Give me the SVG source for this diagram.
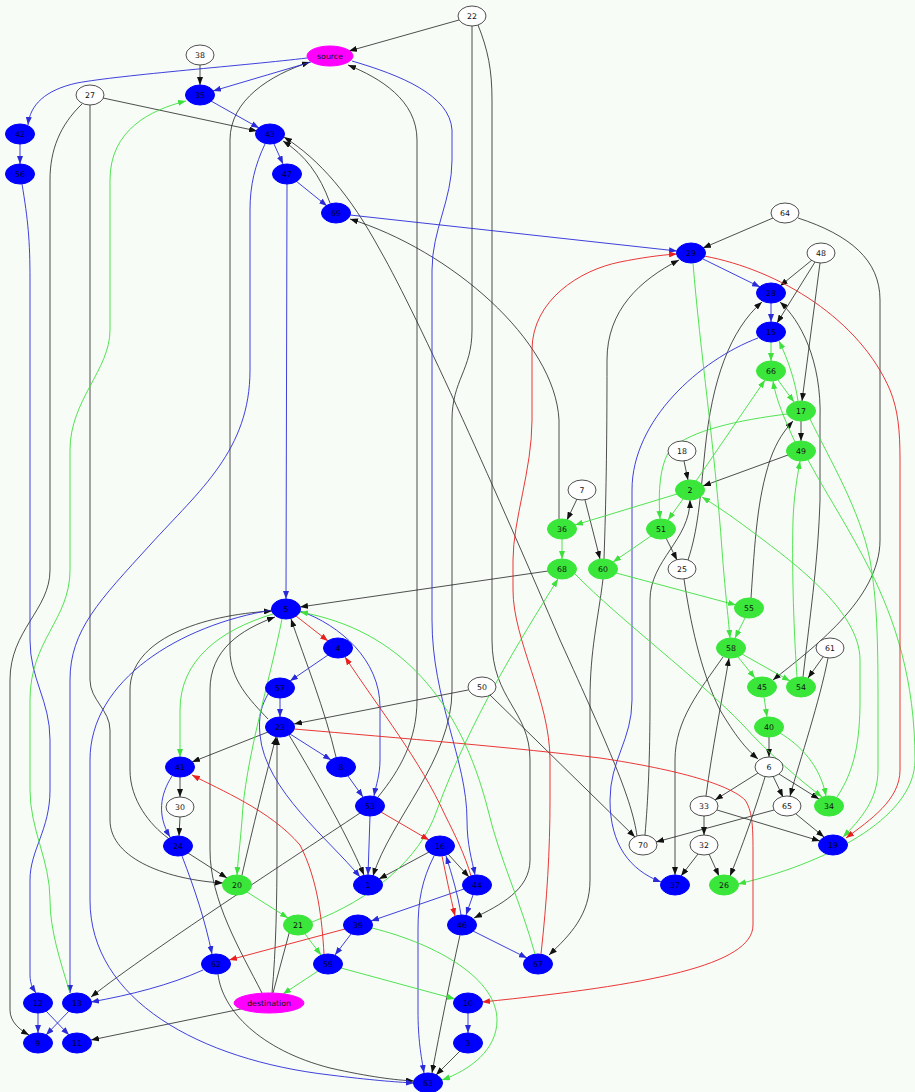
<svg xmlns="http://www.w3.org/2000/svg" width="915" height="1092" viewBox="0 0 915 1092">
<style>
.w{fill:#fff;stroke:#222;stroke-width:0.8}
.b{fill:#0000ff;stroke:#0000ff}
.g{fill:#3ae63a;stroke:#3ae63a}
.m{fill:#ff00ff;stroke:#ff00ff}
text{font-family:"DejaVu Sans","Liberation Sans",sans-serif;font-size:7.8px;text-anchor:middle}
.tb{fill:#00002a}
.tk{fill:#111}
.ek{fill:none;stroke:#222;stroke-width:0.8;marker-end:url(#ak)}
.eb{fill:none;stroke:#2a2ad8;stroke-width:0.9;marker-end:url(#ab)}
.eg{fill:none;stroke:#3ee03e;stroke-width:0.9;marker-end:url(#ag)}
.er{fill:none;stroke:#e82020;stroke-width:0.9;marker-end:url(#ar)}
</style>
<defs>
<marker id="ak" markerUnits="userSpaceOnUse" markerWidth="8" markerHeight="6" refX="8" refY="3" orient="auto"><path d="M0,0 L8,3 L0,6 z" fill="#111"/></marker>
<marker id="ab" markerUnits="userSpaceOnUse" markerWidth="8" markerHeight="6" refX="8" refY="3" orient="auto"><path d="M0,0 L8,3 L0,6 z" fill="#2a2ad8"/></marker>
<marker id="ag" markerUnits="userSpaceOnUse" markerWidth="8" markerHeight="6" refX="8" refY="3" orient="auto"><path d="M0,0 L8,3 L0,6 z" fill="#3ee03e"/></marker>
<marker id="ar" markerUnits="userSpaceOnUse" markerWidth="8" markerHeight="6" refX="8" refY="3" orient="auto"><path d="M0,0 L8,3 L0,6 z" fill="#e82020"/></marker>
</defs>
<rect x="0" y="0" width="915" height="1092" fill="#f7fcf7"/>
<g id="edges">
<!-- black -->
<path class="ek" d="M459,20 L349,51"/>
<path class="ek" d="M472,26 V330 C472,370 452,380 452,420 V690 C452,760 390,820 373,876"/>
<path class="ek" d="M478,25 C488,50 492,70 492,100 V640 C492,700 530,710 530,760 V860 C530,890 500,905 474,918"/>
<path class="ek" d="M200,65 L200,85"/>
<path class="ek" d="M103,98 L257,131"/>
<path class="ek" d="M82,104 C60,125 50,150 50,180 V570 C50,610 10,630 10,680 V1010 C10,1022 20,1030 29,1035"/>
<path class="ek" d="M90,105 V680 C90,700 110,710 110,730 V820 C110,860 170,880 223,883"/>
<path class="ek" d="M268,719 C250,700 230,680 230,650 V140 C230,100 270,75 310,62"/>
<path class="ek" d="M378,797 C400,770 417,740 417,700 V140 C417,100 380,78 348,65"/>
<path class="ek" d="M330,203 C320,175 305,155 283,141"/>
<path class="ek" d="M637,836 C632,800 610,750 560,640 C500,500 420,320 380,250 C350,195 320,160 284,137"/>
<path class="ek" d="M559,519 V420 C555,340 450,250 350,219"/>
<path class="ek" d="M773,218 L703,248"/>
<path class="ek" d="M798,218 C850,235 880,260 880,300 V540 C880,600 810,650 773,680"/>
<path class="ek" d="M812,260 L780,286"/>
<path class="ek" d="M815,262 L777,323"/>
<path class="ek" d="M820,263 L802,401"/>
<path class="ek" d="M801,421 L801,441"/>
<path class="ek" d="M788,455 L703,486"/>
<path class="ek" d="M684,461 L688,480"/>
<path class="ek" d="M666,538 L677,560"/>
<path class="ek" d="M577,499 L567,520"/>
<path class="ek" d="M585,500 L600,559"/>
<path class="ek" d="M548,571 L300,607"/>
<path class="ek" d="M604,559 C606,500 607,450 607,360 C607,310 640,280 679,260"/>
<path class="ek" d="M603,579 C598,620 590,650 590,700 V880 C590,915 570,935 549,955"/>
<path class="ek" d="M688,560 C698,530 700,500 705,450 C712,380 730,330 762,302"/>
<path class="ek" d="M684,579 C690,620 700,670 720,710 C735,735 745,748 758,759"/>
<path class="ek" d="M751,598 C755,540 757,500 770,460 C777,440 785,430 793,421"/>
<path class="ek" d="M803,677 C812,600 818,560 820,500 V420 C822,360 800,320 780,302"/>
<path class="ek" d="M823,657 L808,678"/>
<path class="ek" d="M828,658 C820,700 800,760 790,796"/>
<path class="ek" d="M769,737 L769,757"/>
<path class="ek" d="M758,773 L715,800"/>
<path class="ek" d="M773,776 L783,797"/>
<path class="ek" d="M779,774 L819,799"/>
<path class="ek" d="M765,777 C758,800 745,840 730,876"/>
<path class="ek" d="M706,796 C712,750 722,700 729,658"/>
<path class="ek" d="M704,816 L704,835"/>
<path class="ek" d="M717,810 L820,841"/>
<path class="ek" d="M774,810 L656,842"/>
<path class="ek" d="M796,814 L824,837"/>
<path class="ek" d="M698,854 L681,876"/>
<path class="ek" d="M709,854 L719,876"/>
<path class="ek" d="M723,657 C700,690 675,720 675,760 V875"/>
<path class="ek" d="M645,835 C648,800 650,760 650,700 V600 C650,560 690,540 690,500"/>
<path class="ek" d="M468,690 L294,724"/>
<path class="ek" d="M490,695 L635,837"/>
<path class="ek" d="M336,757 C325,710 305,660 291,619"/>
<path class="ek" d="M168,838 C150,825 130,800 130,770 V690 C130,640 200,615 272,611"/>
<path class="ek" d="M262,993 C240,950 210,900 210,850 V690 C210,650 240,630 275,617"/>
<path class="ek" d="M272,993 C276,950 277,900 277,850 V737"/>
<path class="ek" d="M273,993 L294,915"/>
<path class="ek" d="M241,1009 L91,1040"/>
<path class="ek" d="M242,875 C250,840 262,790 276,737"/>
<path class="ek" d="M268,732 L192,762"/>
<path class="ek" d="M289,735 C310,770 345,830 364,875"/>
<path class="ek" d="M180,777 L180,797"/>
<path class="ek" d="M180,817 L179,836"/>
<path class="ek" d="M188,853 L227,878"/>
<path class="ek" d="M360,813 C320,840 150,950 91,997"/>
<path class="ek" d="M429,852 L379,879"/>
<path class="ek" d="M448,854 L469,877"/>
<path class="ek" d="M460,935 C450,980 440,1030 432,1073"/>
<path class="ek" d="M218,974 C222,1010 260,1050 330,1068 C370,1077 395,1080 414,1081"/>
<path class="ek" d="M460,1051 L436,1075"/>
<!-- blue -->
<path class="eb" d="M307,58 C250,65 120,75 77,83 C45,90 30,105 28,125"/>
<path class="eb" d="M311,62 L213,91"/>
<path class="eb" d="M352,61 C400,75 450,95 452,130 V160 C452,200 432,230 432,270 V620 C432,700 467,760 467,820 C467,845 472,860 475,875"/>
<path class="eb" d="M211,101 L259,128"/>
<path class="eb" d="M20,144 L20,164"/>
<path class="eb" d="M274,144 L283,164"/>
<path class="eb" d="M265,144 C255,165 250,185 250,210 V370 C250,450 200,490 150,545 C100,600 70,630 70,680 V993"/>
<path class="eb" d="M296,181 L327,206"/>
<path class="eb" d="M287,184 L286,599"/>
<path class="eb" d="M350,215 L677,251"/>
<path class="eb" d="M703,259 L760,287"/>
<path class="eb" d="M771,303 L771,322"/>
<path class="eb" d="M758,338 C700,360 632,420 632,490 V700 C632,740 610,760 610,800 C610,845 630,870 661,882"/>
<path class="eb" d="M22,184 C28,220 30,240 30,280 V640 C30,680 50,700 50,740 V790 C50,830 30,850 30,880 V975 C30,985 34,990 36,993"/>
<path class="eb" d="M272,610 C180,625 90,680 90,760 V900 C90,1000 200,1060 330,1075 C370,1080 395,1082 414,1083"/>
<path class="eb" d="M300,611 C340,625 380,660 380,707 V760 C380,775 376,785 374,796"/>
<path class="eb" d="M328,655 L290,681"/>
<path class="eb" d="M280,698 L280,717"/>
<path class="eb" d="M268,694 C262,705 258,715 260,735 C265,790 330,840 360,877"/>
<path class="eb" d="M290,734 L331,760"/>
<path class="eb" d="M348,776 L363,797"/>
<path class="eb" d="M370,816 L368,875"/>
<path class="eb" d="M172,776 C160,795 157,815 170,837"/>
<path class="eb" d="M182,856 C195,890 205,920 212,954"/>
<path class="eb" d="M203,970 C170,985 130,995 91,1002"/>
<path class="eb" d="M434,856 C422,880 418,900 418,930 V1010 C418,1040 421,1055 424,1073"/>
<path class="eb" d="M461,915 C458,895 452,875 446,856"/>
<path class="eb" d="M473,895 L466,915"/>
<path class="eb" d="M464,889 L371,921"/>
<path class="eb" d="M473,931 L527,958"/>
<path class="eb" d="M351,934 L335,955"/>
<path class="eb" d="M468,1013 L468,1033"/>
<path class="eb" d="M38,1013 L38,1033"/>
<path class="eb" d="M46,1011 L69,1035"/>
<path class="eb" d="M69,1011 L46,1035"/>
<!-- green -->
<path class="eg" d="M70,993 C60,960 50,930 50,900 C50,860 30,830 30,790 V700 C30,640 70,620 70,570 V450 C70,400 110,370 110,330 V180 C110,130 150,110 186,101"/>
<path class="eg" d="M693,263 C700,350 715,450 722,550 C725,590 728,615 730,638"/>
<path class="eg" d="M771,342 L771,361"/>
<path class="eg" d="M778,380 L794,402"/>
<path class="eg" d="M798,401 C795,380 788,360 779,341"/>
<path class="eg" d="M787,414 C740,420 690,430 670,450 C660,465 658,490 660,519"/>
<path class="eg" d="M810,419 C830,460 860,510 870,560 C877,600 878,640 878,700 V770 C878,800 860,820 843,837"/>
<path class="eg" d="M795,442 C785,420 776,400 773,381"/>
<path class="eg" d="M808,460 C830,500 850,530 870,570 C895,620 915,680 915,760 C915,820 820,865 738,884"/>
<path class="eg" d="M696,481 L765,380"/>
<path class="eg" d="M683,499 L668,520"/>
<path class="eg" d="M677,494 L575,525"/>
<path class="eg" d="M837,797 C855,770 860,740 860,700 V660 C860,610 790,560 750,530 C730,515 715,505 702,497"/>
<path class="eg" d="M651,536 L613,562"/>
<path class="eg" d="M562,539 L562,559"/>
<path class="eg" d="M575,574 C620,620 700,680 743,725 C770,755 800,780 822,797"/>
<path class="eg" d="M616,573 L736,605"/>
<path class="eg" d="M745,618 L735,638"/>
<path class="eg" d="M738,657 L755,678"/>
<path class="eg" d="M742,654 L790,681"/>
<path class="eg" d="M797,677 C793,620 792,560 793,520 C794,495 797,478 800,461"/>
<path class="eg" d="M764,697 L767,717"/>
<path class="eg" d="M780,733 C800,745 820,765 826,796"/>
<path class="eg" d="M273,614 C220,630 180,660 180,710 V757"/>
<path class="eg" d="M282,619 C270,680 245,760 242,820 C240,845 238,860 237,875"/>
<path class="eg" d="M535,954 C520,900 500,860 488,810 C460,700 400,630 300,612"/>
<path class="eg" d="M247,892 L288,918"/>
<path class="eg" d="M305,934 L321,955"/>
<path class="eg" d="M312,922 C370,900 420,860 437,810 C470,720 520,640 558,579"/>
<path class="eg" d="M318,971 L283,994"/>
<path class="eg" d="M341,968 L455,999"/>
<path class="eg" d="M372,928 C440,945 497,980 497,1020 C497,1050 470,1070 442,1080"/>
<!-- red -->
<path class="er" d="M704,256 C780,270 860,320 890,390 C898,410 900,430 900,460 V770 C900,800 870,820 846,838"/>
<path class="er" d="M541,954 C547,900 550,850 550,800 V760 C550,700 513,640 513,590 V560 C513,520 532,470 532,420 V350 C532,300 580,270 620,262 C640,258 660,255 677,254"/>
<path class="er" d="M296,616 L328,641"/>
<path class="er" d="M471,876 C465,855 455,835 445,815 C420,760 380,710 345,657"/>
<path class="er" d="M294,729 C400,738 520,748 600,758 C680,770 730,785 745,800 C752,810 753,825 753,850 V925 C753,965 650,985 482,1002"/>
<path class="er" d="M324,954 C322,920 318,880 300,845 C270,810 220,790 192,775"/>
<path class="er" d="M381,812 L429,840"/>
<path class="er" d="M442,856 C446,875 450,895 455,916"/>
<path class="er" d="M345,929 L229,960"/>
</g>
<g id="n22"><ellipse class="w" cx="472" cy="16" rx="14" ry="10"/><text class="tk" x="472" y="19">22</text></g>
<g id="nsource"><ellipse class="m" cx="330" cy="56" rx="23" ry="10"/><text class="tk" x="330" y="59">source</text></g>
<g id="n38"><ellipse class="w" cx="200" cy="55" rx="14" ry="10"/><text class="tk" x="200" y="58">38</text></g>
<g id="n35"><ellipse class="b" cx="200" cy="95" rx="14.5" ry="10"/><text class="tb" x="200" y="98">35</text></g>
<g id="n27"><ellipse class="w" cx="90" cy="95" rx="14" ry="10"/><text class="tk" x="90" y="98">27</text></g>
<g id="n42"><ellipse class="b" cx="20" cy="134" rx="14.5" ry="10"/><text class="tb" x="20" y="137">42</text></g>
<g id="n43"><ellipse class="b" cx="270" cy="134" rx="14.5" ry="10"/><text class="tb" x="270" y="137">43</text></g>
<g id="n56"><ellipse class="b" cx="20" cy="174" rx="14.5" ry="10"/><text class="tb" x="20" y="177">56</text></g>
<g id="n47"><ellipse class="b" cx="287" cy="174" rx="14.5" ry="10"/><text class="tb" x="287" y="177">47</text></g>
<g id="n69"><ellipse class="b" cx="336" cy="213" rx="14.5" ry="10"/><text class="tb" x="336" y="216">69</text></g>
<g id="n64"><ellipse class="w" cx="785" cy="213" rx="14" ry="10"/><text class="tk" x="785" y="216">64</text></g>
<g id="n29"><ellipse class="b" cx="691" cy="253" rx="14.5" ry="10"/><text class="tb" x="691" y="256">29</text></g>
<g id="n48"><ellipse class="w" cx="821" cy="253" rx="14" ry="10"/><text class="tk" x="821" y="256">48</text></g>
<g id="n28"><ellipse class="b" cx="771" cy="293" rx="14.5" ry="10"/><text class="tb" x="771" y="296">28</text></g>
<g id="n15"><ellipse class="b" cx="771" cy="332" rx="14.5" ry="10"/><text class="tb" x="771" y="335">15</text></g>
<g id="n66"><ellipse class="g" cx="771" cy="371" rx="14.5" ry="10"/><text class="tk" x="771" y="374">66</text></g>
<g id="n17"><ellipse class="g" cx="801" cy="411" rx="14.5" ry="10"/><text class="tk" x="801" y="414">17</text></g>
<g id="n18"><ellipse class="w" cx="682" cy="451" rx="14" ry="10"/><text class="tk" x="682" y="454">18</text></g>
<g id="n49"><ellipse class="g" cx="801" cy="451" rx="14.5" ry="10"/><text class="tk" x="801" y="454">49</text></g>
<g id="n2"><ellipse class="g" cx="690" cy="490" rx="14.5" ry="10"/><text class="tk" x="690" y="493">2</text></g>
<g id="n7"><ellipse class="w" cx="582" cy="490" rx="14" ry="10"/><text class="tk" x="582" y="493">7</text></g>
<g id="n36"><ellipse class="g" cx="562" cy="529" rx="14.5" ry="10"/><text class="tk" x="562" y="532">36</text></g>
<g id="n51"><ellipse class="g" cx="661" cy="529" rx="14.5" ry="10"/><text class="tk" x="661" y="532">51</text></g>
<g id="n68"><ellipse class="g" cx="562" cy="569" rx="14.5" ry="10"/><text class="tk" x="562" y="572">68</text></g>
<g id="n60"><ellipse class="g" cx="603" cy="569" rx="14.5" ry="10"/><text class="tk" x="603" y="572">60</text></g>
<g id="n25"><ellipse class="w" cx="682" cy="569" rx="14" ry="10"/><text class="tk" x="682" y="572">25</text></g>
<g id="n5"><ellipse class="b" cx="286" cy="609" rx="14.5" ry="10"/><text class="tb" x="286" y="612">5</text></g>
<g id="n55"><ellipse class="g" cx="749" cy="608" rx="14.5" ry="10"/><text class="tk" x="749" y="611">55</text></g>
<g id="n4"><ellipse class="b" cx="338" cy="648" rx="14.5" ry="10"/><text class="tb" x="338" y="651">4</text></g>
<g id="n58"><ellipse class="g" cx="731" cy="648" rx="14.5" ry="10"/><text class="tk" x="731" y="651">58</text></g>
<g id="n61"><ellipse class="w" cx="830" cy="648" rx="14" ry="10"/><text class="tk" x="830" y="651">61</text></g>
<g id="n57"><ellipse class="b" cx="280" cy="688" rx="14.5" ry="10"/><text class="tb" x="280" y="691">57</text></g>
<g id="n50"><ellipse class="w" cx="482" cy="687" rx="14" ry="10"/><text class="tk" x="482" y="690">50</text></g>
<g id="n45"><ellipse class="g" cx="762" cy="687" rx="14.5" ry="10"/><text class="tk" x="762" y="690">45</text></g>
<g id="n54"><ellipse class="g" cx="801" cy="687" rx="14.5" ry="10"/><text class="tk" x="801" y="690">54</text></g>
<g id="n23"><ellipse class="b" cx="280" cy="727" rx="14.5" ry="10"/><text class="tb" x="280" y="730">23</text></g>
<g id="n40"><ellipse class="g" cx="769" cy="727" rx="14.5" ry="10"/><text class="tk" x="769" y="730">40</text></g>
<g id="n41"><ellipse class="b" cx="180" cy="767" rx="14.5" ry="10"/><text class="tb" x="180" y="770">41</text></g>
<g id="n8"><ellipse class="b" cx="341" cy="767" rx="14.5" ry="10"/><text class="tb" x="341" y="770">8</text></g>
<g id="n6"><ellipse class="w" cx="769" cy="767" rx="14" ry="10"/><text class="tk" x="769" y="770">6</text></g>
<g id="n30"><ellipse class="w" cx="180" cy="807" rx="14" ry="10"/><text class="tk" x="180" y="810">30</text></g>
<g id="n53"><ellipse class="b" cx="370" cy="806" rx="14.5" ry="10"/><text class="tb" x="370" y="809">53</text></g>
<g id="n33"><ellipse class="w" cx="704" cy="806" rx="14" ry="10"/><text class="tk" x="704" y="809">33</text></g>
<g id="n65"><ellipse class="w" cx="787" cy="806" rx="14" ry="10"/><text class="tk" x="787" y="809">65</text></g>
<g id="n34"><ellipse class="g" cx="829" cy="806" rx="14.5" ry="10"/><text class="tk" x="829" y="809">34</text></g>
<g id="n24"><ellipse class="b" cx="178" cy="846" rx="14.5" ry="10"/><text class="tb" x="178" y="849">24</text></g>
<g id="n16"><ellipse class="b" cx="440" cy="846" rx="14.5" ry="10"/><text class="tb" x="440" y="849">16</text></g>
<g id="n70"><ellipse class="w" cx="643" cy="845" rx="14" ry="10"/><text class="tk" x="643" y="848">70</text></g>
<g id="n32"><ellipse class="w" cx="704" cy="845" rx="14" ry="10"/><text class="tk" x="704" y="848">32</text></g>
<g id="n19"><ellipse class="b" cx="833" cy="845" rx="14.5" ry="10"/><text class="tb" x="833" y="848">19</text></g>
<g id="n20"><ellipse class="g" cx="237" cy="885" rx="14.5" ry="10"/><text class="tk" x="237" y="888">20</text></g>
<g id="n1"><ellipse class="b" cx="368" cy="885" rx="14.5" ry="10"/><text class="tb" x="368" y="888">1</text></g>
<g id="n44"><ellipse class="b" cx="477" cy="885" rx="14.5" ry="10"/><text class="tb" x="477" y="888">44</text></g>
<g id="n37"><ellipse class="b" cx="675" cy="885" rx="14.5" ry="10"/><text class="tb" x="675" y="888">37</text></g>
<g id="n26"><ellipse class="g" cx="724" cy="885" rx="14.5" ry="10"/><text class="tk" x="724" y="888">26</text></g>
<g id="n21"><ellipse class="g" cx="298" cy="925" rx="14.5" ry="10"/><text class="tk" x="298" y="928">21</text></g>
<g id="n39"><ellipse class="b" cx="358" cy="925" rx="14.5" ry="10"/><text class="tb" x="358" y="928">39</text></g>
<g id="n46"><ellipse class="b" cx="462" cy="925" rx="14.5" ry="10"/><text class="tb" x="462" y="928">46</text></g>
<g id="n62"><ellipse class="b" cx="216" cy="964" rx="14.5" ry="10"/><text class="tb" x="216" y="967">62</text></g>
<g id="n59"><ellipse class="b" cx="328" cy="964" rx="14.5" ry="10"/><text class="tb" x="328" y="967">59</text></g>
<g id="n67"><ellipse class="b" cx="538" cy="964" rx="14.5" ry="10"/><text class="tb" x="538" y="967">67</text></g>
<g id="n12"><ellipse class="b" cx="38" cy="1003" rx="14.5" ry="10"/><text class="tb" x="38" y="1006">12</text></g>
<g id="n13"><ellipse class="b" cx="77" cy="1003" rx="14.5" ry="10"/><text class="tb" x="77" y="1006">13</text></g>
<g id="ndestination"><ellipse class="m" cx="269" cy="1003" rx="35" ry="10"/><text class="tk" x="269" y="1006">destination</text></g>
<g id="n10"><ellipse class="b" cx="468" cy="1003" rx="14.5" ry="10"/><text class="tb" x="468" y="1006">10</text></g>
<g id="n9"><ellipse class="b" cx="38" cy="1043" rx="14.5" ry="10"/><text class="tb" x="38" y="1046">9</text></g>
<g id="n11"><ellipse class="b" cx="77" cy="1043" rx="14.5" ry="10"/><text class="tb" x="77" y="1046">11</text></g>
<g id="n3"><ellipse class="b" cx="468" cy="1043" rx="14.5" ry="10"/><text class="tb" x="468" y="1046">3</text></g>
<g id="n63"><ellipse class="b" cx="428" cy="1083" rx="14.5" ry="10"/><text class="tb" x="428" y="1086">63</text></g>
</svg>
